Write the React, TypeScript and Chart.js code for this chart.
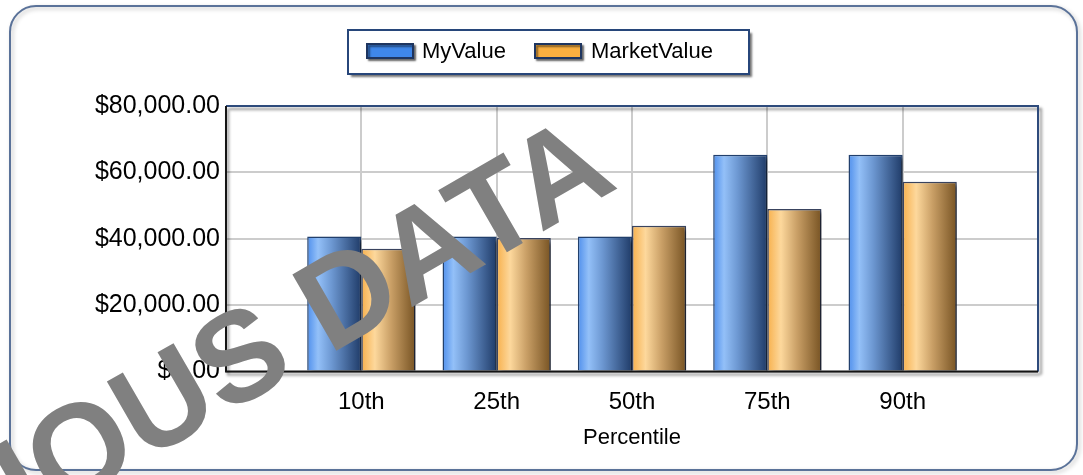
import React, { useEffect, useRef } from 'react';
import { Chart, registerables } from 'chart.js';

Chart.register(...registerables);

const categories = ['10th', '25th', '50th', '75th', '90th'];
const seriesNames = ['MyValue', 'MarketValue'];
const myValues = [40700, 40700, 40700, 65300, 65300];
const marketValues = [37000, 40200, 43900, 49000, 57200];
const yMin = 0;
const yMax = 80000;
const yStep = 20000;
const xTitle = 'Percentile';
const watermark = 'FICTITIOUS DATA';
const watermarkLead = 'FICTITIOUS ';

const W = 1083;
const H = 475;
const FONT = '"Liberation Sans", Arial, sans-serif';

const money = new Intl.NumberFormat('en-US', { style: 'currency', currency: 'USD', minimumFractionDigits: 2 });

const blueStops: [number, string][] = [[0, '#4f8fec'], [0.2, '#93c0f8'], [0.45, '#6d98d2'], [1, '#1f3b68']];
const orangeStops: [number, string][] = [[0, '#f7b04c'], [0.25, '#fdd89c'], [0.55, '#c99f66'], [1, '#775323']];
const swatchColors = ['#3f87ea', '#fbb040'];

function barGradient(ctx: any, dsIndex: number) {
  const chart = ctx.chart;
  const x = chart.scales?.x;
  if (!x || ctx.dataIndex === undefined) return swatchColors[dsIndex];
  const center = x.getPixelForValue(ctx.dataIndex);
  const step = x.getPixelForValue(1) - x.getPixelForValue(0);
  if (!isFinite(center) || !isFinite(step) || step <= 0) return swatchColors[dsIndex];
  const half = (step * 0.8) / 2;
  const left = dsIndex === 0 ? center - half : center;
  const g = chart.ctx.createLinearGradient(left, 0, left + half, 0);
  (dsIndex === 0 ? blueStops : orangeStops).forEach(([o, c]) => g.addColorStop(o, c));
  return g;
}

function roundRectPath(ctx: CanvasRenderingContext2D, x: number, y: number, w: number, h: number, r: number) {
  ctx.beginPath();
  ctx.moveTo(x + r, y);
  ctx.lineTo(x + w - r, y);
  ctx.arcTo(x + w, y, x + w, y + r, r);
  ctx.lineTo(x + w, y + h - r);
  ctx.arcTo(x + w, y + h, x + w - r, y + h, r);
  ctx.lineTo(x + r, y + h);
  ctx.arcTo(x, y + h, x, y + h - r, r);
  ctx.lineTo(x, y + r);
  ctx.arcTo(x, y, x + r, y, r);
  ctx.closePath();
}

const decor = {
  id: 'decor',
  beforeDraw(chart: any) {
    const ctx: CanvasRenderingContext2D = chart.ctx;
    ctx.save();
    ctx.fillStyle = '#ffffff';
    ctx.fillRect(0, 0, W, H);
    ctx.shadowColor = 'rgba(0,0,0,0.25)';
    ctx.shadowBlur = 4;
    ctx.shadowOffsetX = 2;
    ctx.shadowOffsetY = 2;
    roundRectPath(ctx, 10, 6, 1067, 464, 26);
    ctx.strokeStyle = '#5a7299';
    ctx.lineWidth = 2;
    ctx.stroke();
    ctx.restore();
  },
  beforeDatasetsDraw(chart: any) {
    const ctx: CanvasRenderingContext2D = chart.ctx;
    const { left, top, right, bottom } = chart.chartArea;
    ctx.save();
    ctx.shadowColor = 'rgba(0,0,0,0.45)';
    ctx.shadowBlur = 3;
    ctx.shadowOffsetX = 3;
    ctx.shadowOffsetY = 3;
    ctx.beginPath();
    ctx.moveTo(left, top);
    ctx.lineTo(right, top);
    ctx.lineTo(right, bottom);
    ctx.strokeStyle = '#2e4b7c';
    ctx.lineWidth = 2;
    ctx.stroke();
    ctx.restore();
  },
  beforeDatasetDraw(chart: any) {
    const ctx: CanvasRenderingContext2D = chart.ctx;
    ctx.save();
    ctx.shadowColor = 'rgba(0,0,0,0.5)';
    ctx.shadowBlur = 4;
    ctx.shadowOffsetX = 4;
    ctx.shadowOffsetY = 3;
  },
  afterDatasetDraw(chart: any) {
    chart.ctx.restore();
  },
  afterDatasetsDraw(chart: any) {
    const ctx: CanvasRenderingContext2D = chart.ctx;
    const { left, top, right, bottom } = chart.chartArea;
    ctx.save();
    ctx.shadowColor = 'rgba(0,0,0,0.45)';
    ctx.shadowBlur = 3;
    ctx.shadowOffsetX = 2;
    ctx.shadowOffsetY = 3;
    ctx.beginPath();
    ctx.moveTo(left, top);
    ctx.lineTo(left, bottom);
    ctx.lineTo(right, bottom);
    ctx.strokeStyle = '#151515';
    ctx.lineWidth = 2;
    ctx.stroke();
    ctx.restore();
  },
  afterDraw(chart: any) {
    const ctx: CanvasRenderingContext2D = chart.ctx;
    ctx.save();
    ctx.shadowColor = 'rgba(0,0,0,0.55)';
    ctx.shadowBlur = 2;
    ctx.shadowOffsetX = 3;
    ctx.shadowOffsetY = 3;
    ctx.fillStyle = '#ffffff';
    ctx.fillRect(348, 30, 401, 44);
    ctx.shadowColor = 'transparent';
    ctx.strokeStyle = '#27467a';
    ctx.lineWidth = 2;
    ctx.strokeRect(348, 30, 401, 44);
    const items = [
      { sx: 367, tx: 422 },
      { sx: 535, tx: 591 },
    ];
    chart.data.datasets.forEach((ds: any, i: number) => {
      const it = items[i];
      ctx.save();
      ctx.shadowColor = 'rgba(0,0,0,0.5)';
      ctx.shadowBlur = 2;
      ctx.shadowOffsetX = 2;
      ctx.shadowOffsetY = 2;
      ctx.fillStyle = swatchColors[i];
      ctx.fillRect(it.sx, 44, 46, 14);
      ctx.strokeStyle = '#1e3560';
      ctx.lineWidth = 2;
      ctx.strokeRect(it.sx, 44, 46, 14);
      ctx.restore();
      ctx.fillStyle = '#000';
      ctx.font = `22px ${FONT}`;
      ctx.textBaseline = 'middle';
      ctx.textAlign = 'left';
      ctx.fillText(ds.label, it.tx, 52);
    });
    ctx.restore();
    ctx.save();
    ctx.font = `bold 128px ${FONT}`;
    ctx.fillStyle = '#808080';
    ctx.textBaseline = 'alphabetic';
    ctx.textAlign = 'left';
    ctx.translate(329, 355);
    ctx.rotate(-Math.PI / 6);
    const lead = ctx.measureText(watermarkLead).width;
    ctx.fillText(watermark, -lead, 0);
    ctx.restore();
  },
};

export default function App() {
  const ref = useRef<HTMLCanvasElement>(null);
  useEffect(() => {
    if (!ref.current) return;
    const labels = ['', ...categories, ''];
    const pad = (arr: number[]) => [null, ...arr, null];
    const chart = new Chart(ref.current, {
      type: 'bar',
      data: {
        labels,
        datasets: [
          {
            label: seriesNames[0],
            data: pad(myValues) as any,
            backgroundColor: (c: any) => barGradient(c, 0),
            borderColor: '#22406e',
            borderWidth: 1.5,
            categoryPercentage: 0.8,
            barPercentage: 1.0,
          },
          {
            label: seriesNames[1],
            data: pad(marketValues) as any,
            backgroundColor: (c: any) => barGradient(c, 1),
            borderColor: '#3a4460',
            borderWidth: 1.5,
            categoryPercentage: 0.8,
            barPercentage: 1.0,
          },
        ],
      },
      options: {
        responsive: false,
        animation: false,
        events: [],
        layout: { padding: { top: 106, right: 45, left: 0, bottom: 0 } },
        plugins: {
          legend: { display: false },
          tooltip: { enabled: false },
          title: { display: false },
        },
        scales: {
          x: {
            type: 'category',
            offset: false,
            grid: { offset: false, drawTicks: false, color: '#cccccc', lineWidth: 2 },
            border: { display: false },
            ticks: {
              padding: 16,
              color: '#000',
              font: { family: FONT, size: 24 },
              maxRotation: 0,
              autoSkip: false,
            },
            title: {
              display: true,
              text: xTitle,
              color: '#000',
              font: { family: FONT, size: 22 },
              padding: { top: 0, bottom: 24 },
            },
            afterFit: (s: any) => {
              s.height = 103.5;
            },
          },
          y: {
            min: yMin,
            max: yMax,
            grid: { drawTicks: false, color: '#cccccc', lineWidth: 2 },
            border: { display: false },
            ticks: {
              stepSize: yStep,
              padding: 6,
              color: '#000',
              font: { family: FONT, size: 25 },
              callback: (v: any) => money.format(Number(v)),
            },
            afterFit: (s: any) => {
              s.width = 226;
            },
          },
        },
      },
      plugins: [decor],
    });
    return () => chart.destroy();
  }, []);
  return (
    <div style={{ position: 'fixed', left: 0, top: 0, width: W, height: H, background: '#fff' }}>
      <canvas ref={ref} width={W} height={H} style={{ display: 'block', width: W, height: H }} />
    </div>
  );
}
